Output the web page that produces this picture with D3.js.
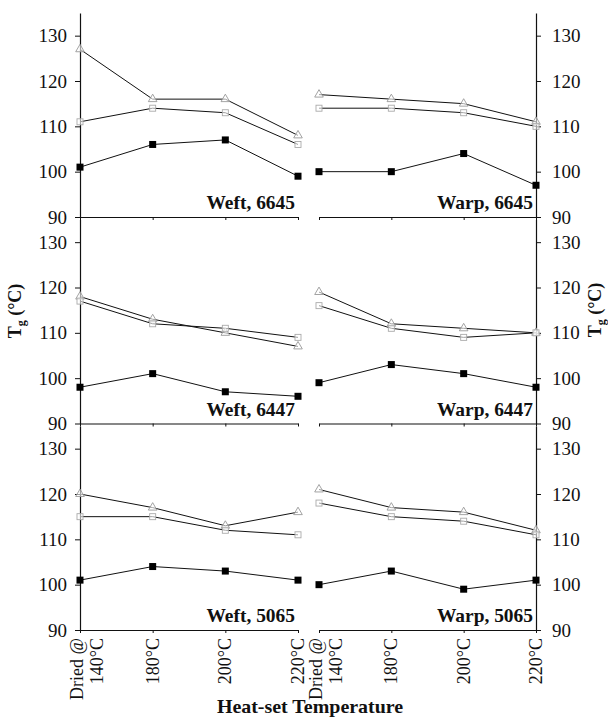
<!DOCTYPE html>
<html>
<head>
<meta charset="utf-8">
<script src="https://cdn.jsdelivr.net/npm/d3@7"></script>
<style>
  html, body { margin: 0; padding: 0; background: #fff; }
  svg { display: block; }
  text { font-family: "Liberation Serif", "DejaVu Serif", serif; fill: #111; }
</style>
</head>
<body>
<svg id="chart" width="608" height="717"></svg>
<script>
// Heat-set temperatures (x categories)
const categories = ["Dried @ 140°C", "180°C", "200°C", "220°C"];
const yTicks = [90, 100, 110, 120, 130];

// Tg (°C) per panel: open triangle, open square, filled square series
const weft6645Tri = [127, 116, 116, 108];
const weft6645Sq  = [111, 114, 113, 106];
const weft6645Fill = [101, 106, 107, 99];

const warp6645Tri = [117, 116, 115, 111];
const warp6645Sq  = [114, 114, 113, 110];
const warp6645Fill = [100, 100, 104, 97];

const weft6447Tri = [118, 113, 110, 107];
const weft6447Sq  = [117, 112, 111, 109];
const weft6447Fill = [98, 101, 97, 96];

const warp6447Tri = [119, 112, 111, 110];
const warp6447Sq  = [116, 111, 109, 110];
const warp6447Fill = [99, 103, 101, 98];

const weft5065Tri = [120, 117, 113, 116];
const weft5065Sq  = [115, 115, 112, 111];
const weft5065Fill = [101, 104, 103, 101];

const warp5065Tri = [121, 117, 116, 112];
const warp5065Sq  = [118, 115, 114, 111];
const warp5065Fill = [100, 103, 99, 101];

const panelLabels = ["Weft, 6645", "Warp, 6645", "Weft, 6447", "Warp, 6447", "Weft, 5065", "Warp, 5065"];

const panels = [
  { row: 0, col: 0, label: panelLabels[0], tri: weft6645Tri, sq: weft6645Sq, fill: weft6645Fill },
  { row: 0, col: 1, label: panelLabels[1], tri: warp6645Tri, sq: warp6645Sq, fill: warp6645Fill },
  { row: 1, col: 0, label: panelLabels[2], tri: weft6447Tri, sq: weft6447Sq, fill: weft6447Fill },
  { row: 1, col: 1, label: panelLabels[3], tri: warp6447Tri, sq: warp6447Sq, fill: warp6447Fill },
  { row: 2, col: 0, label: panelLabels[4], tri: weft5065Tri, sq: weft5065Sq, fill: weft5065Fill },
  { row: 2, col: 1, label: panelLabels[5], tri: warp5065Tri, sq: warp5065Sq, fill: warp5065Fill }
];

const svg = d3.select("#chart");

// Layout
const colRange = [[80, 298], [319, 536]];
const rowTop = r => 13 + 206.5 * r;
const rowH = 204;

const xScales = colRange.map(r => d3.scalePoint().domain(categories).range(r));
const yScale = r => d3.scaleLinear().domain([90, 135]).range([rowTop(r) + rowH, rowTop(r)]);

const line = (x, y) => d3.line().x((d, i) => x(categories[i])).y(d => y(d));

panels.forEach(p => {
  const x = xScales[p.col];
  const y = yScale(p.row);
  const g = svg.append("g");

  // Y axis (left for weft, right for warp)
  const axisX = p.col === 0 ? colRange[0][0] : colRange[1][1];
  const axis = (p.col === 0 ? d3.axisLeft(y) : d3.axisRight(y))
    .tickValues(yTicks).tickSize(5).tickSizeOuter(0)
    .tickPadding(p.col === 0 ? 8 : 11).tickFormat(d3.format("d"));
  const ag = g.append("g").attr("transform", `translate(${axisX},0)`).call(axis);
  ag.select(".domain").attr("stroke", "#111").attr("stroke-width", 1.2);
  ag.selectAll(".tick line").attr("stroke", "#111");
  ag.selectAll(".tick text").attr("font-size", 19).attr("fill", "#222")
    .style("font-family", "'Liberation Serif', serif");

  // X baseline at Tg = 90 with small category ticks
  const xa = d3.axisBottom(x).tickSize(3).tickSizeOuter(0).tickFormat("");
  const xg = g.append("g").attr("transform", `translate(0,${y(90)})`).call(xa);
  xg.select(".domain").attr("stroke", "#111").attr("stroke-width", 1.2);
  xg.selectAll(".tick line").attr("stroke", "#111");

  // Series lines
  [p.tri, p.sq, p.fill].forEach(vals => {
    g.append("path").datum(vals)
      .attr("d", line(x, y))
      .attr("fill", "none").attr("stroke", "#111").attr("stroke-width", 1);
  });

  // Open triangles
  g.selectAll(null).data(p.tri).enter().append("path")
    .attr("transform", (d, i) => `translate(${x(categories[i])},${y(d)})`)
    .attr("d", d3.symbol(d3.symbolTriangle, 32))
    .attr("fill", "#fff").attr("fill-opacity", 0.6)
    .attr("stroke", "#999").attr("stroke-width", 0.9);

  // Open squares
  g.selectAll(null).data(p.sq).enter().append("rect")
    .attr("x", (d, i) => x(categories[i]) - 3)
    .attr("y", d => y(d) - 3)
    .attr("width", 6).attr("height", 6)
    .attr("fill", "#fff").attr("fill-opacity", 0.6)
    .attr("stroke", "#aaa").attr("stroke-width", 0.9);

  // Filled squares
  g.selectAll(null).data(p.fill).enter().append("rect")
    .attr("x", (d, i) => x(categories[i]) - 3.5)
    .attr("y", d => y(d) - 3.5)
    .attr("width", 7).attr("height", 7)
    .attr("fill", "#000");

  // Panel label
  g.append("text")
    .attr("transform", `translate(${p.col === 0 ? 295 : 533},${y(90) - 8}) scale(1.08,1)`)
    .attr("text-anchor", "end")
    .attr("font-size", 18).attr("font-weight", "bold")
    .text(p.label);
});

// Rotated category labels under both bottom panels
const labelTop = 638;
xScales.forEach(x => {
  categories.forEach((c, i) => {
    const cx = x(c);
    if (i === 0) {
      const parts = ["Dried @", c.replace("Dried @ ", "")];
      [[parts[0], cx + 3], [parts[1], cx + 23]].forEach(([t, px]) => {
        svg.append("text")
          .attr("transform", `translate(${px},${labelTop}) rotate(-90)`)
          .attr("text-anchor", "end").attr("font-size", 18).attr("fill", "#222").text(t);
      });
    } else {
      svg.append("text")
        .attr("transform", `translate(${cx + 6},${labelTop}) rotate(-90)`)
        .attr("text-anchor", "end").attr("font-size", 18).attr("fill", "#222").text(c);
    }
  });
});

// Axis titles
svg.append("text")
  .attr("transform", "translate(310,713) scale(1.05,1)")
  .attr("text-anchor", "middle").attr("font-size", 19).attr("font-weight", "bold")
  .text("Heat-set Temperature");

function tgLabel(px, py) {
  const t = svg.append("text")
    .attr("transform", `translate(${px},${py}) rotate(-90)`)
    .attr("text-anchor", "middle").attr("font-size", 18).attr("font-weight", "bold");
  t.append("tspan").text("T");
  t.append("tspan").attr("font-size", 12).attr("dy", 4).text("g");
  t.append("tspan").attr("dy", -4).text(" (°C)");
}
tgLabel(21, 311);
tgLabel(601, 310);
</script>
</body>
</html>
